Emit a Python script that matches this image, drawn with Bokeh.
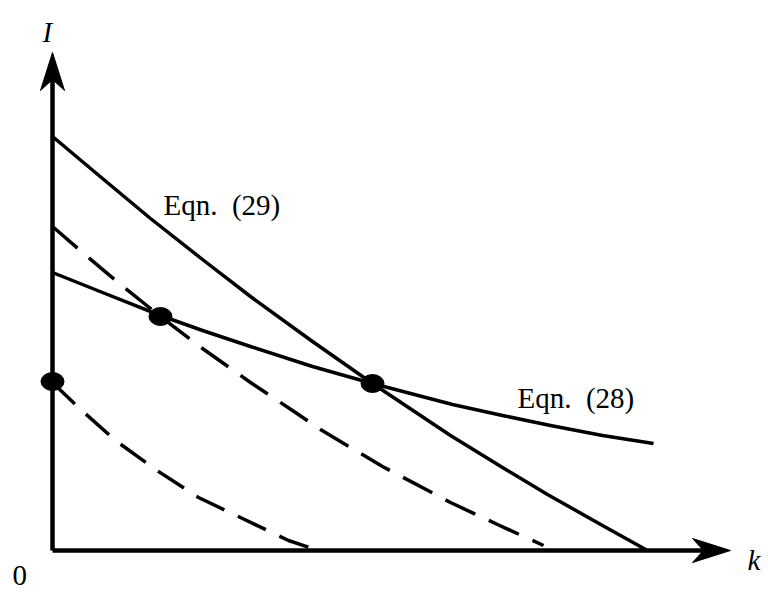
from bokeh.plotting import figure
from bokeh.models import Range1d
from bokeh.core.properties import value
from bokeh.embed import file_html
from bokeh.resources import INLINE

# ---- data (k on horizontal axis, I on vertical axis) ----
eq29_k = [0, 50, 98, 150, 198, 260, 320, 398, 450, 495, 550, 595]
eq29_I = [414, 372, 332, 291, 254, 209, 167, 115, 83, 56, 25, 0]

eq28_k = [0, 50, 108, 150, 198, 260, 320, 400, 450, 498, 550, 601]
eq28_I = [278, 258, 235, 220, 204, 184, 167, 146, 135, 125, 115, 107]

dash_hi_k = [0, 30, 68, 108, 150, 198, 240, 268, 330, 398, 445, 491]
dash_hi_I = [324, 298, 266, 234, 202, 168, 140, 121, 84, 48, 26, 5]

dash_lo_k = [0, 26, 63, 103, 146, 190, 236, 263]
dash_lo_I = [168, 143, 110, 81, 53, 32, 10, 1]

points_k = [0, 108, 320]
points_I = [169, 234, 167]

k_axis_end = 678
I_axis_end = 498

labels_text = ["Eqn.\u2002(29)", "Eqn.\u2002(28)", "0"]
labels_k = [111, 465, -40]
labels_I = [346, 153, -25]

axis_names = ["I", "k"]
axis_names_k = [-10, 695]
axis_names_I = [519, -9]

FONT = value("Liberation Serif")

p = figure(width=768, height=592, output_backend="svg", toolbar_location=None,
           x_range=Range1d(-52, 716), y_range=Range1d(-42, 550),
           x_axis_location=None, y_axis_location=None, min_border=0)
p.grid.visible = False
p.outline_line_color = None
p.background_fill_color = "white"
p.border_fill_color = "white"

# axes with arrowheads
head_len, head_half, notch = 38, 12, 27
p.line([0, k_axis_end - notch], [0, 0], line_color="black", line_width=4.5)
p.line([0, 0], [0, I_axis_end - notch], line_color="black", line_width=4.5)
p.patch([k_axis_end, k_axis_end - head_len, k_axis_end - notch, k_axis_end - head_len],
        [0, head_half, 0, -head_half], color="black")
p.patch([0, head_half, 0, -head_half],
        [I_axis_end, I_axis_end - head_len, I_axis_end - notch, I_axis_end - head_len], color="black")

# curves
p.line(eq29_k, eq29_I, line_color="black", line_width=3.5, line_join="round")
p.line(eq28_k, eq28_I, line_color="black", line_width=3.5, line_join="round")
p.line(dash_hi_k, dash_hi_I, line_color="black", line_width=3.5, line_dash="33 15", line_join="round")
p.line(dash_lo_k, dash_lo_I, line_color="black", line_width=3.5, line_dash="31 15", line_join="round")

# equilibrium points
p.ellipse(points_k, points_I, width=23, height=18, color="black")

# labels
p.text(labels_k, labels_I, text=labels_text, text_font=FONT, text_font_size="29px",
       text_baseline="alphabetic", text_align="left", text_color="black")
p.text(axis_names_k, axis_names_I, text=axis_names, text_font=FONT, text_font_size="29px",
       text_font_style="italic", text_baseline="alphabetic", text_align="left", text_color="black")

open("out.html", "w").write(file_html(p, INLINE))
